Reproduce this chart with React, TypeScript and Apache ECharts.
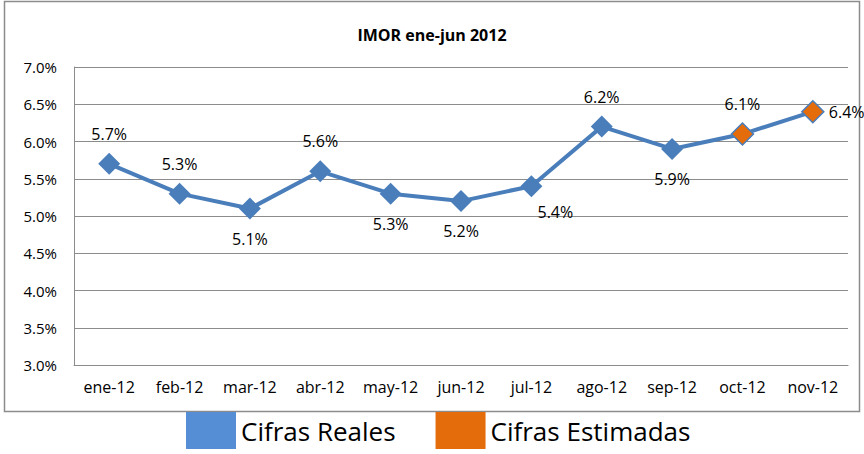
import React, { useEffect, useRef } from "react";
import * as echarts from "echarts";

const categories = ["ene-12", "feb-12", "mar-12", "abr-12", "may-12", "jun-12", "jul-12", "ago-12", "sep-12", "oct-12", "nov-12"];
const realValues = [5.7, 5.3, 5.1, 5.6, 5.3, 5.2, 5.4, 6.2, 5.9, 6.1, 6.4];
const estimatedValues: (number | null)[] = [null, null, null, null, null, null, null, null, null, 6.1, 6.4];
const labelPositions = ["top", "top", "bottom", "top", "bottom", "bottom", "bottom", "top", "bottom", "top", "right"];
const labelOffsets: [number, number][] = [[0, -4], [0, -4], [0, 4], [0, -4], [0, 4], [0, 4], [24, 0], [0, -4], [0, 4], [0, -4], [-2, 0]];

const FONT = "'Open Sans', Lato, sans-serif";

export default function App() {
  const ref = useRef<HTMLDivElement>(null);
  useEffect(() => {
    if (!ref.current) return;
    const chart = echarts.init(ref.current, undefined, { renderer: "svg" });
    chart.setOption({
      animation: false,
      backgroundColor: "#ffffff",
      title: {
        text: "IMOR ene-jun 2012",
        left: "center",
        top: 22,
        textStyle: { fontFamily: "'Open Sans', sans-serif", fontSize: 16, fontWeight: "bold", color: "#000" },
      },
      graphic: [
        {
          type: "rect",
          shape: { x: 4.5, y: 1.5, width: 855, height: 410 },
          style: { fill: "none", stroke: "#8c8c8c", lineWidth: 1.5 },
          silent: true,
          z: -1,
        },
      ],
      legend: {
        bottom: 0,
        left: 181,
        icon: "rect",
        itemWidth: 50,
        itemHeight: 37,
        itemGap: 40,
        textStyle: { fontFamily: FONT, fontSize: 26, color: "#000" },
        data: [
          { name: "Cifras Reales", itemStyle: { color: "#558ED5", borderWidth: 0 } },
          { name: "Cifras Estimadas", itemStyle: { color: "#E46C0A", borderWidth: 0 } },
        ],
      },
      grid: { left: 74, right: 16, top: 67, bottom: 89 },
      xAxis: {
        type: "category",
        data: categories,
        boundaryGap: true,
        axisLine: { lineStyle: { color: "#8c8c8c", width: 1 } },
        axisTick: { show: false },
        axisLabel: { fontFamily: FONT, fontSize: 16, color: "#000", margin: 14, interval: 0 },
      },
      yAxis: {
        type: "value",
        min: 3,
        max: 7,
        interval: 0.5,
        axisLine: { show: true, lineStyle: { color: "#8c8c8c", width: 1 } },
        axisTick: { show: false },
        splitLine: { lineStyle: { color: "#8c8c8c", width: 1 } },
        axisLabel: { fontFamily: FONT, fontSize: 15, color: "#000", margin: 17, formatter: (v: number) => v.toFixed(1) + "%" },
      },
      series: [
        {
          name: "Cifras Reales",
          type: "line",
          data: realValues.map((v, i) => ({
            value: v,
            label: { position: labelPositions[i], offset: labelOffsets[i] },
          })),
          symbol: "diamond",
          symbolSize: 22,
          lineStyle: { color: "#4A7EBB", width: 4 },
          itemStyle: { color: "#4A7EBB" },
          label: {
            show: true,
            fontFamily: FONT,
            fontSize: 16,
            color: "#000",
            distance: 7,
            formatter: (p: any) => p.value.toFixed(1) + "%",
          },
          z: 2,
        },
        {
          name: "Cifras Estimadas",
          type: "line",
          data: estimatedValues,
          symbol: "diamond",
          symbolSize: 22,
          lineStyle: { width: 0, opacity: 0 },
          itemStyle: { color: "#E46C0A", borderColor: "#4A7EBB", borderWidth: 1.5 },
          label: { show: false },
          z: 3,
        },
      ],
    });
    return () => chart.dispose();
  }, []);
  return <div ref={ref} style={{ width: 864, height: 454, position: "absolute", left: 0, top: 0 }} />;
}
